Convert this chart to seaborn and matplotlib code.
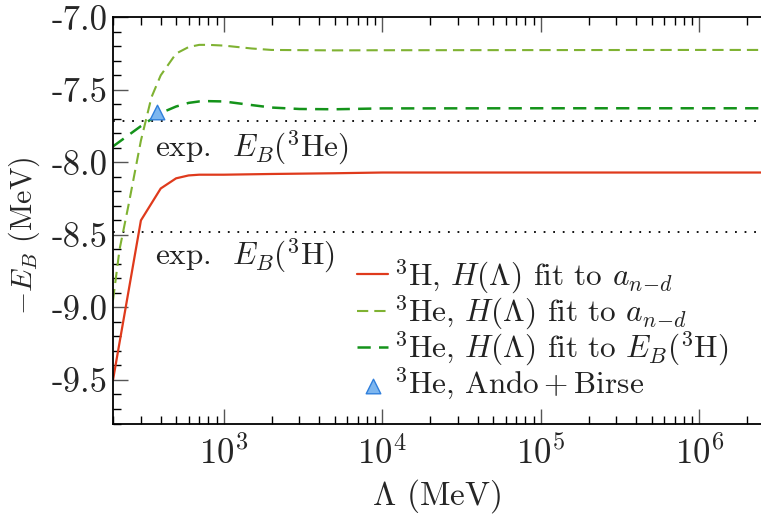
import numpy as np
import pandas as pd
import matplotlib
matplotlib.use("Agg")
import matplotlib.pyplot as plt
from matplotlib.ticker import LogLocator, LogFormatterSciNotation, MultipleLocator, NullFormatter
import seaborn as sns

# ---- data ----
lam_H = [200, 300, 400, 500, 600, 700, 800, 1000, 2000, 5000, 1e4, 1e5, 1e6, 2.45e6]
eb_H = [-9.50, -8.40, -8.18, -8.11, -8.09, -8.085, -8.085, -8.085, -8.08, -8.075, -8.07, -8.07, -8.07, -8.07]

lam_He_a = [200, 220, 250, 300, 350, 400, 500, 600, 700, 800, 1000, 1500, 2000, 5000, 1e4, 1e5, 1e6, 2.45e6]
eb_He_a = [-8.95, -8.60, -8.30, -7.85, -7.55, -7.40, -7.25, -7.205, -7.19, -7.19, -7.195, -7.215, -7.225,
           -7.228, -7.227, -7.226, -7.225, -7.225]

lam_He_E = [200, 300, 400, 500, 600, 700, 800, 1000, 1500, 2000, 3000, 5000, 1e4, 1e5, 1e6, 2.45e6]
eb_He_E = [-7.89, -7.75, -7.66, -7.615, -7.59, -7.58, -7.578, -7.58, -7.605, -7.622, -7.632, -7.634,
           -7.628, -7.627, -7.627, -7.627]

lam_AB = [380]
eb_AB = [-7.655]

exp_He3 = -7.718
exp_H3 = -8.482

labels = [r"$^3$H, $H(\Lambda)$ fit to $a_{n\!-\!d}$",
          r"$^3$He, $H(\Lambda)$ fit to $a_{n\!-\!d}$",
          r"$^3$He, $H(\Lambda)$ fit to $E_B(^3\mathrm{H})$",
          r"$^3$He, $\mathrm{Ando+Birse}$"]
yticks = [-9.5, -9.0, -8.5, -8.0, -7.5, -7.0]
ytick_labels = ["-9.5", "-9.0", "-8.5", "-8.0", "-7.5", "-7.0"]

c_red = "#df3a1c"
c_lg = "#7fb232"
c_dg = "#14931a"
c_tri_face = "#7db6ef"
c_tri_edge = "#2f7fdc"

sns.set_style("ticks")
plt.rcParams["font.family"] = ["cmr10", "DejaVu Serif"]
plt.rcParams["mathtext.fontset"] = "cm"
plt.rcParams["axes.formatter.use_mathtext"] = True
plt.rcParams["axes.unicode_minus"] = False

fig = plt.figure(figsize=(7.61, 5.14), dpi=100)
ax = fig.add_axes([113 / 761, 1 - 423.5 / 514, 1 - 113 / 761, (423.5 - 17.3) / 514])

dfH = pd.DataFrame({"lam": lam_H, "eb": eb_H})
dfA = pd.DataFrame({"lam": lam_He_a, "eb": eb_He_a})
dfE = pd.DataFrame({"lam": lam_He_E, "eb": eb_He_E})
dfB = pd.DataFrame({"lam": lam_AB, "eb": eb_AB})

ax.axhline(exp_He3, color="black", lw=1.3, ls=(0, (1, 4.3)), zorder=1)
ax.axhline(exp_H3, color="black", lw=1.3, ls=(0, (1, 4.3)), zorder=1)

sns.lineplot(data=dfH, x="lam", y="eb", ax=ax, color=c_red, lw=1.6, label=labels[0], estimator=None, sort=False)
sns.lineplot(data=dfA, x="lam", y="eb", ax=ax, color=c_lg, lw=1.5, label=labels[1], estimator=None, sort=False)
sns.lineplot(data=dfE, x="lam", y="eb", ax=ax, color=c_dg, lw=1.8, label=labels[2], estimator=None, sort=False)
lines = ax.get_lines()
lines[-2].set_dashes([5.4, 2.9])
lines[-1].set_dashes([5.3, 3.3])
sns.scatterplot(data=dfB, x="lam", y="eb", ax=ax, marker="^", s=110, color=c_tri_face,
                edgecolor=c_tri_edge, linewidth=1.0, label=labels[3], zorder=5)

ax.set_xscale("log")
ax.set_xlim(200, 2.45e6)
ax.set_ylim(-9.8, -7.0)

ax.xaxis.set_major_locator(LogLocator(base=10, numticks=20))
ax.xaxis.set_minor_locator(LogLocator(base=10, subs=np.arange(2, 10), numticks=20))
ax.xaxis.set_major_formatter(LogFormatterSciNotation())
ax.xaxis.set_minor_formatter(NullFormatter())
ax.set_yticks(yticks, ytick_labels)
ax.yaxis.set_minor_locator(MultipleLocator(0.1))

ax.tick_params(axis="both", which="major", direction="in", length=11, width=1.0, color="#555555",
               top=True, right=False)
ax.tick_params(axis="both", which="minor", direction="in", length=6, width=1.0, color="black",
               top=True, right=False)
ax.tick_params(axis="x", which="major", pad=9, labelsize=25)
ax.tick_params(axis="y", which="major", pad=4, labelsize=25)

for s in ["left", "bottom", "top"]:
    ax.spines[s].set_linewidth(1.3)
    ax.spines[s].set_color("black")
ax.spines["right"].set_visible(False)

ax.set_xlabel(r"$\Lambda$ (MeV)", fontsize=24, labelpad=4)
ax.set_ylabel(r"$-E_B$ (MeV)", fontsize=21.5)
ax.yaxis.set_label_coords(-0.11, 0.462)

ax.text(366, -7.959, r"exp.  $E_B(^3\mathrm{He})$", fontsize=22.5, va="baseline", ha="left", color="#222222")
ax.text(366, -8.705, r"exp.  $E_B(^3\mathrm{H})$", fontsize=22.5, va="baseline", ha="left", color="#222222")

leg = ax.legend(loc="upper left", bbox_to_anchor=((357 - 113) / 648, (423.5 - 257) / 406.2),
                frameon=False, fontsize=22.5, handlelength=1.0, handletextpad=0.2,
                labelspacing=-0.08, borderpad=0, borderaxespad=0)
for t in leg.get_texts():
    t.set_color("#222222")

fig.savefig("out.png", dpi=100)
